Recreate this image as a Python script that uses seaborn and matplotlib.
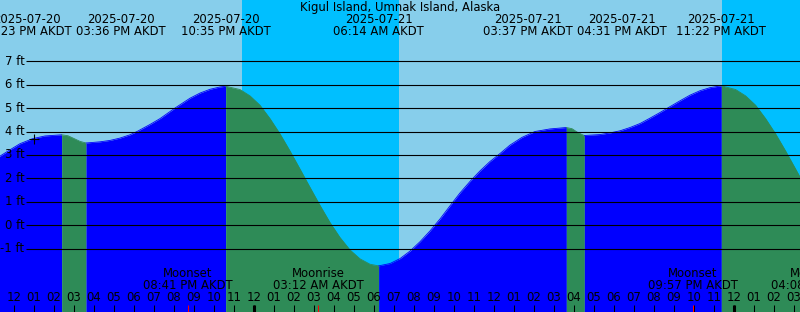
import matplotlib
matplotlib.use("Agg")
import matplotlib.pyplot as plt
import matplotlib.transforms as mtransforms
import seaborn as sns
import pandas as pd

# ---------------- data (hours relative to 2025-07-21 00:00 AKDT) ----------------
tide_hours = [-13.2, -12.7, -12.2, -11.7, -11.05, -10.45, -9.617, -9.3, -9.0, -8.7, -8.4,
              -7.7, -7.2, -6.7, -6.2, -5.85, -5.2, -4.7, -3.95, -3.2, -2.7, -2.2, -1.7, -1.417,
              -0.7, -0.2, 0.3, 0.8, 1.3, 1.8, 2.3, 2.8, 3.3, 3.8, 4.3, 4.8, 5.3, 5.8, 6.233,
              6.8, 7.3, 7.8, 8.3, 8.8, 9.3, 9.8, 10.3, 10.8, 11.3, 11.8, 12.3, 12.8, 13.4,
              14.05, 14.8, 15.617,
              15.9, 16.15, 16.4, 16.517,
              17.3, 17.8, 18.3, 18.8, 19.3, 19.8, 20.3, 20.8, 21.3, 21.8, 22.3, 22.8, 23.367,
              24.08, 24.58, 25.08, 25.58, 26.08, 26.58, 27.08, 27.58]
tide_ft = [2.70, 2.95, 3.22, 3.48, 3.70, 3.81, 3.86, 3.82, 3.70, 3.58, 3.51,
           3.56, 3.62, 3.72, 3.86, 4.00, 4.30, 4.55, 5.00, 5.42, 5.64, 5.80, 5.90, 5.93,
           5.79, 5.52, 5.12, 4.55, 3.90, 3.17, 2.40, 1.62, 0.85, 0.12, -0.52, -1.05, -1.43, -1.66, -1.73,
           -1.63, -1.42, -1.10, -0.70, -0.24, 0.27, 0.83, 1.38, 1.87, 2.32, 2.72, 3.06, 3.42, 3.75,
           4.00, 4.11, 4.17,
           4.12, 3.98, 3.87, 3.83,
           3.87, 3.94, 4.03, 4.17, 4.34, 4.57, 4.81, 5.06, 5.31, 5.55, 5.74, 5.87, 5.95,
           5.79, 5.52, 5.12, 4.55, 3.90, 3.17, 2.40, 1.62]

event_hours = [-9.617, -8.4, -1.417, 6.233, 15.617, 16.517, 23.367]
event_dates = ["2025-07-20", "2025-07-20", "2025-07-20", "2025-07-21",
               "2025-07-21", "2025-07-21", "2025-07-21"]
event_times = ["02:23 PM AKDT", "03:36 PM AKDT", "10:35 PM AKDT", "06:14 AM AKDT",
               "03:37 PM AKDT", "04:31 PM AKDT", "11:22 PM AKDT"]

sunset_hours = [-0.6, 23.38]
sunrise_hours = [7.27]

moon_hours = [-3.317, 3.2, 21.95, 28.133]
moon_names = ["Moonset", "Moonrise", "Moonset", "Moonrise"]
moon_times = ["08:41 PM AKDT", "03:12 AM AKDT", "09:57 PM AKDT", "04:08 AM AKDT"]

ft_levels = [-1, 0, 1, 2, 3, 4, 5, 6, 7]
ft_labels = ["-1 ft", "0 ft", "1 ft", "2 ft", "3 ft", "4 ft", "5 ft", "6 ft", "7 ft"]

hour_ticks = list(range(-12, 28))
hour_labels = ["12", "01", "02", "03", "04", "05", "06", "07", "08", "09", "10", "11",
               "12", "01", "02", "03", "04", "05", "06", "07", "08", "09", "10", "11",
               "12", "01", "02", "03", "04", "05", "06", "07", "08", "09", "10", "11",
               "12", "01", "02", "03"]
midnight_hours = [0, 24]
now_hour, now_ft = -11.0, 3.68

title = "Kigul Island, Umnak Island, Alaska"

# ---------------- styling ----------------
DAY = "#87CEEB"
NIGHT = "#00BFFF"
RISE = "#0000FF"
FALL = "#2E8B57"
FS = 8.4

sns.set_theme(style="white")
plt.rcParams['font.family'] = ['DejaVu Sans']

W, H = 800, 312
fig = plt.figure(figsize=(W / 100, H / 100), dpi=100)
ax = fig.add_axes([0, 0, 1, 1])
XL, XR = -12.7, 27.3
YB, YT = -3.697, 9.608

def fy(p):  # pixel-from-top -> axes fraction
    return 1 - p / H

bt = mtransforms.blended_transform_factory(ax.transData, ax.transAxes)

# day / night background
ax.axvspan(XL - 1, XR + 1, color=DAY, lw=0, zorder=0)
ax.axvspan(sunset_hours[0], sunrise_hours[0], color=NIGHT, lw=0, zorder=0.1)
ax.axvspan(sunset_hours[1], XR + 1, color=NIGHT, lw=0, zorder=0.1)

# tide fill, split at highs/lows
df = pd.DataFrame({"hour": tide_hours, "ft": tide_ft})
bounds = [df.hour.min()] + event_hours + [df.hour.max()]
for a, b in zip(bounds[:-1], bounds[1:]):
    seg = df[(df.hour >= a) & (df.hour <= b)]
    col = RISE if seg.ft.iloc[-1] > seg.ft.iloc[0] else FALL
    ax.fill_between(seg.hour, seg.ft, YB - 1, color=col, lw=0, zorder=1)
    sns.lineplot(data=seg, x="hour", y="ft", ax=ax, color=col, lw=0.6, zorder=1.1,
                 estimator=None, sort=False, legend=False)
ax.set_xlim(XL, XR)
ax.set_ylim(YB, YT)
ax.axis("off")

# grid lines and labels
ax.hlines(ft_levels, XL + 26 / 20, XR + 1, color="black", lw=0.8, zorder=2)
for v, lab in zip(ft_levels, ft_labels):
    ax.text(XL + 24.5 / 20, v, lab, ha="right", va="center", fontsize=FS, color="black", zorder=3)

# now marker
ax.plot([now_hour], [now_ft], marker="+", color="black", ms=6.5, mew=0.8, zorder=3)

# title and tide event labels
ax.text(0.5, fy(7.5), title, transform=ax.transAxes, ha="center", va="center",
        fontsize=FS, color="black")
centers = list(event_hours)
MIN_SEP = 4.7
for i in range(len(centers) - 1):
    if centers[i + 1] - centers[i] < MIN_SEP:
        mid = (centers[i] + centers[i + 1]) / 2
        centers[i] = mid - MIN_SEP / 2
        centers[i + 1] = mid + MIN_SEP / 2
for c, d, t in zip(centers, event_dates, event_times):
    ax.text(c, fy(19.5), d, transform=bt, ha="center", va="center", fontsize=FS, color="black")
    ax.text(c, fy(31.5), t, transform=bt, ha="center", va="center", fontsize=FS, color="black")

# moon labels
for mh, n, t in zip(moon_hours, moon_names, moon_times):
    ax.text(mh, fy(273.5), n, transform=bt, ha="center", va="center", fontsize=FS, color="black", zorder=3)
    ax.text(mh, fy(285.5), t, transform=bt, ha="center", va="center", fontsize=FS, color="black", zorder=3)

# hour labels and ticks
for h, lab in zip(hour_ticks, hour_labels):
    ax.text(h, fy(297.5), lab, transform=bt, ha="center", va="center", fontsize=FS, color="black", zorder=3)
ax.vlines(hour_ticks, fy(304.5), 0, transform=bt, color="black", lw=0.75, zorder=3)
ax.vlines(midnight_hours, fy(304.5), 0, transform=bt, color="black", lw=2.2, zorder=3)
ax.vlines(moon_hours, fy(304.5), 0, transform=bt, color="#FF0000", lw=0.75, zorder=3.1)

fig.savefig("out.png", dpi=100)
